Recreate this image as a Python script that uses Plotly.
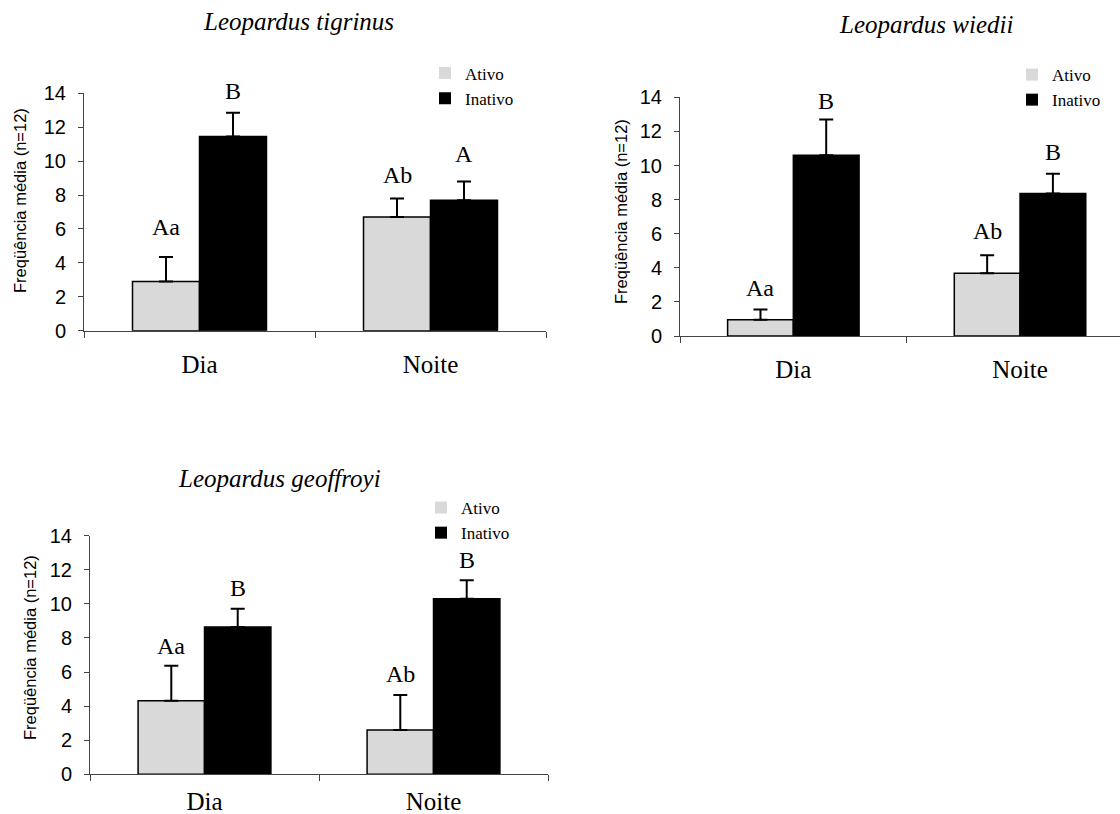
import plotly.graph_objects as go

categories = ["Dia", "Noite"]
series_names = ["Ativo", "Inativo"]
titles = ["Leopardus tigrinus", "Leopardus wiedii", "Leopardus geoffroyi"]
y_title = "Freqüência média (n=12)"

tigrinus_ativo = [2.9, 6.7]
tigrinus_ativo_err = [1.45, 1.1]
tigrinus_inativo = [11.45, 7.7]
tigrinus_inativo_err = [1.4, 1.1]
tigrinus_letters_ativo = ["Aa", "Ab"]
tigrinus_letters_inativo = ["B", "A"]

wiedii_ativo = [0.95, 3.68]
wiedii_ativo_err = [0.6, 1.05]
wiedii_inativo = [10.6, 8.36]
wiedii_inativo_err = [2.1, 1.16]
wiedii_letters_ativo = ["Aa", "Ab"]
wiedii_letters_inativo = ["B", "B"]

geoffroyi_ativo = [4.32, 2.6]
geoffroyi_ativo_err = [2.05, 2.05]
geoffroyi_inativo = [8.65, 10.3]
geoffroyi_inativo_err = [1.07, 1.08]
geoffroyi_letters_ativo = ["Aa", "Ab"]
geoffroyi_letters_inativo = ["B", "B"]

y_ticks = [0, 2, 4, 6, 8, 10, 12, 14]

W, H = 1120, 814
SERIF = "Liberation Serif, Times New Roman, serif"
SANS = "Liberation Sans, Arial, sans-serif"
colors = ["#d9d9d9", "#000000"]
AXIS_COLOR = "#444"
BARGAP = 0.42
bw = (1 - BARGAP) / 2

# layout / style per panel (pixel geometry)
panels = [
    dict(title=titles[0], a=tigrinus_ativo, ae=tigrinus_ativo_err, i=tigrinus_inativo, ie=tigrinus_inativo_err,
         la=tigrinus_letters_ativo, li=tigrinus_letters_inativo,
         px=(84, 546), py=(93.3, 330.7), xr=[-0.5, 1.5], title_xy=(298, 22), leg=(425, 55.5),
         ytitle_xy=(20, 201), shift_a=[15, 8.5], shift_i=[6.5, 12.5], xstand=11),
    dict(title=titles[1], a=wiedii_ativo, ae=wiedii_ativo_err, i=wiedii_inativo, ie=wiedii_inativo_err,
         la=wiedii_letters_ativo, li=wiedii_letters_inativo,
         px=(680, 1120), py=(97.3, 336), xr=[-0.5, 1.441], title_xy=(926, 24), leg=(1012, 57),
         ytitle_xy=(621, 212), shift_a=[7, 9], shift_i=[3.5, 6.5], xstand=11),
    dict(title=titles[2], a=geoffroyi_ativo, ae=geoffroyi_ativo_err, i=geoffroyi_inativo, ie=geoffroyi_inativo_err,
         la=geoffroyi_letters_ativo, li=geoffroyi_letters_inativo,
         px=(90, 548), py=(535.7, 774.3), xr=[-0.5, 1.5], title_xy=(279, 478), leg=(421, 490),
         ytitle_xy=(30, 648), shift_a=[5, 6.5], shift_i=[6, 5], xstand=5),
]

fig = go.Figure()
annotations = []
layout_axes = {}

for k, p in enumerate(panels):
    n = "" if k == 0 else str(k + 1)
    xa, ya = "x" + n, "y" + n
    legname = "legend" + n
    for s, (vals, errs, col) in enumerate([(p["a"], p["ae"], colors[0]), (p["i"], p["ie"], colors[1])]):
        fig.add_trace(go.Bar(
            x=categories, y=vals, name=series_names[s], xaxis=xa, yaxis=ya,
            marker=dict(color=col, line=dict(color="black", width=1.5)),
            error_y=dict(type="data", array=errs, arrayminus=[0] * len(errs), symmetric=False,
                         color="black", thickness=2, width=7),
            showlegend=False,
        ))
    # legend-only swatches (square, no border)
    for s in range(2):
        fig.add_trace(go.Scatter(
            x=[None], y=[None], mode="markers", name=series_names[s], xaxis=xa, yaxis=ya,
            marker=dict(symbol="square", size=12, color=colors[s], line=dict(width=0)),
            legend=legname, showlegend=True,
        ))
    # letters above error bars
    for s, (vals, errs, lets, shifts) in enumerate([(p["a"], p["ae"], p["la"], p["shift_a"]),
                                                     (p["i"], p["ie"], p["li"], p["shift_i"])]):
        off = -bw / 2 if s == 0 else bw / 2
        for j in range(len(categories)):
            annotations.append(dict(
                x=j + off, y=vals[j] + errs[j], xref=xa, yref=ya, text=lets[j], showarrow=False,
                yanchor="bottom", yshift=shifts[j], font=dict(family=SERIF, size=24, color="black")))
    # panel title
    annotations.append(dict(
        x=p["title_xy"][0] / W, y=1 - p["title_xy"][1] / H, xref="paper", yref="paper",
        text="<i>" + p["title"] + "</i>", showarrow=False, xanchor="center", yanchor="middle",
        font=dict(family=SERIF, size=25, color="black")))
    # y axis title
    annotations.append(dict(
        x=p["ytitle_xy"][0] / W, y=1 - p["ytitle_xy"][1] / H, xref="paper", yref="paper",
        text=y_title, textangle=-90, showarrow=False, xanchor="center", yanchor="middle",
        font=dict(family=SANS, size=16.5, color="black")))
    layout_axes["xaxis" + n] = dict(
        domain=[p["px"][0] / W, p["px"][1] / W], anchor=ya, type="category", range=p["xr"],
        showline=True, linecolor=AXIS_COLOR, linewidth=1, ticks="outside", tickson="boundaries",
        ticklen=6, tickcolor=AXIS_COLOR, showgrid=False, zeroline=False, automargin=False,
        tickfont=dict(family=SERIF, size=25, color="black"), ticklabelstandoff=p["xstand"])
    layout_axes["yaxis" + n] = dict(
        domain=[1 - p["py"][1] / H, 1 - p["py"][0] / H], anchor=xa, range=[0, 14],
        tickvals=y_ticks, showline=True, linecolor=AXIS_COLOR, linewidth=1, ticks="outside",
        ticklen=5, tickcolor=AXIS_COLOR, showgrid=False, zeroline=False, automargin=False,
        tickfont=dict(family=SANS, size=20, color="black"), ticklabelstandoff=8)
    layout_axes[legname] = dict(
        x=p["leg"][0] / W, y=1 - p["leg"][1] / H, xanchor="left", yanchor="top",
        bgcolor="rgba(0,0,0,0)", font=dict(family=SERIF, size=17, color="black"),
        traceorder="normal", itemwidth=30, tracegroupgap=0)

fig.update_layout(
    width=W, height=H, margin=dict(l=0, r=0, t=0, b=0, autoexpand=False),
    paper_bgcolor="white", plot_bgcolor="white",
    barmode="group", bargap=BARGAP, bargroupgap=0,
    annotations=annotations, **layout_axes)

fig.write_html("out.html")
